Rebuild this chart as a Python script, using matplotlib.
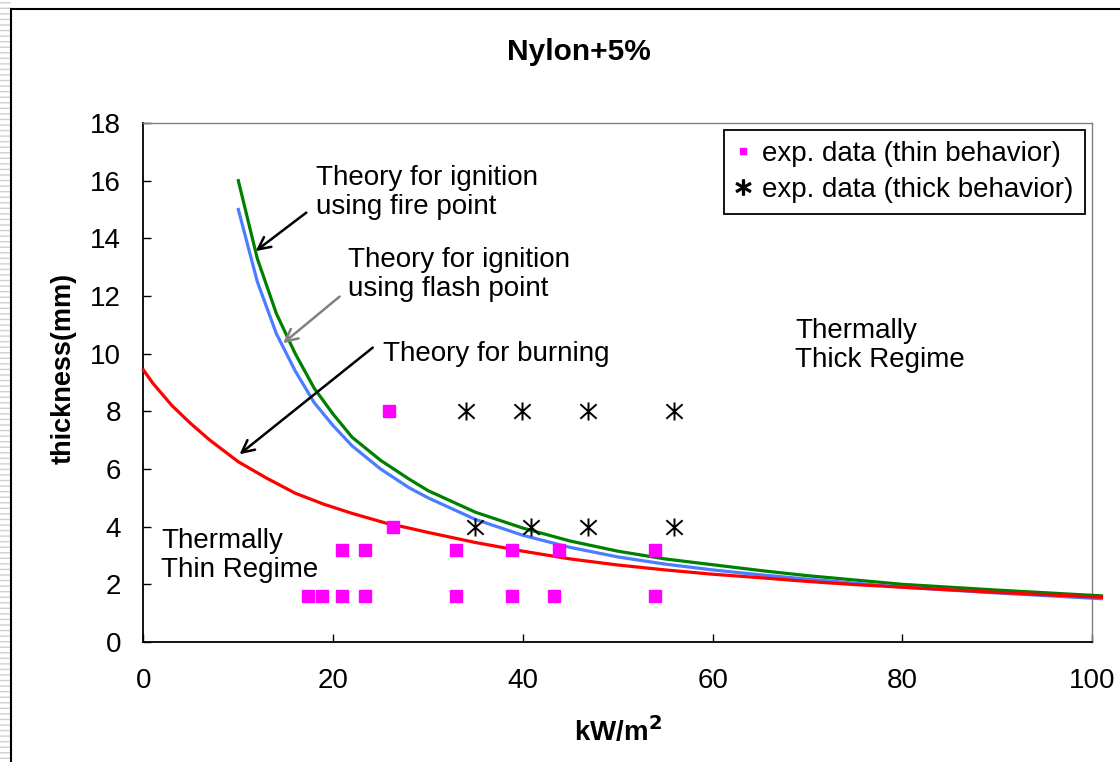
import matplotlib
matplotlib.use("Agg")
import matplotlib.pyplot as plt
from matplotlib.lines import Line2D
from matplotlib.patches import Rectangle
from matplotlib.path import Path
import numpy as np

plt.rcParams['font.family'] = ['Liberation Sans', 'DejaVu Sans']

# theory curves
x_fire = [10, 12, 14, 16, 18, 20, 22, 25, 28, 30, 35, 40, 45, 50, 55, 60, 65, 70, 80, 90, 101]
y_fire = [16.0, 13.3, 11.4, 10.0, 8.8, 7.9, 7.1, 6.3, 5.65, 5.25, 4.5, 3.95, 3.5, 3.15, 2.88, 2.68, 2.48, 2.3, 2.0, 1.8, 1.6]

x_flash = [10, 12, 14, 16, 18, 20, 22, 25, 28, 30, 35, 40, 45, 50, 55, 60, 65, 70, 80, 90, 101]
y_flash = [15.0, 12.5, 10.7, 9.4, 8.3, 7.5, 6.8, 6.0, 5.35, 5.0, 4.25, 3.7, 3.28, 2.95, 2.7, 2.5, 2.33, 2.18, 1.9, 1.7, 1.5]

x_burn = [0, 1, 3, 5, 7, 9, 10, 13, 16, 19, 22, 25.6, 28, 30, 35, 40, 45, 50, 55, 60, 65, 70, 75, 80, 90, 101]
y_burn = [9.43, 8.97, 8.2, 7.57, 7.0, 6.5, 6.25, 5.68, 5.16, 4.78, 4.46, 4.12, 3.95, 3.8, 3.45, 3.15, 2.88, 2.67, 2.5, 2.35, 2.23, 2.1, 1.99, 1.9, 1.72, 1.55]

# experiments
thin_x = [25.9, 26.3, 20.9, 23.4, 32.9, 38.8, 43.8, 53.9, 17.3, 18.8, 20.9, 23.4, 32.9, 38.8, 43.3, 53.9]
thin_y = [8.0, 4.0, 3.2, 3.2, 3.2, 3.2, 3.2, 3.2, 1.6, 1.6, 1.6, 1.6, 1.6, 1.6, 1.6, 1.6]
thick_x = [34.0, 39.9, 46.9, 55.9, 34.9, 40.9, 46.9, 55.9]
thick_y = [8, 8, 8, 8, 4, 4, 4, 4]

# excel style asterisk: vertical bar plus an X
star = Path([(0, -1), (0, 1), (-0.9, -0.8), (0.9, 0.8), (-0.9, 0.8), (0.9, -0.8)],
            [Path.MOVETO, Path.LINETO, Path.MOVETO, Path.LINETO, Path.MOVETO, Path.LINETO])

fig = plt.figure(figsize=(11.2, 7.62), dpi=100)
ax = fig.add_axes([0.1281, 0.1575, 0.8469, 0.6811])

# outer frame like the spreadsheet chart area
fig.patches.append(Rectangle((0, 0), 0.0098, 1, transform=fig.transFigure,
                             facecolor='white', edgecolor='#d0d0d0', hatch='---',
                             lw=0, zorder=0))
fig.add_artist(Line2D([0.0098, 0.0098], [0, 0.988], color='black', lw=1.5,
                      transform=fig.transFigure))
fig.add_artist(Line2D([0.0098, 1], [0.988, 0.988], color='black', lw=1.5,
                      transform=fig.transFigure))

ax.plot(x_fire, y_fire, color='#008000', lw=2.3, clip_on=False, zorder=3)
ax.plot(x_flash, y_flash, color='#4a7dff', lw=2.3, clip_on=False, zorder=3)
ax.plot(x_burn, y_burn, color='#ff0000', lw=2.3, clip_on=False, zorder=4)

ax.plot(thin_x, thin_y, 's', color='#ff00ff', ms=8.5, ls='none', zorder=5)
ax.plot(thick_x, thick_y, marker=star, color='black', ms=13, mew=1.4,
        ls='none', zorder=5)

ax.set_xlim(0, 100)
ax.set_ylim(0, 18)
ax.set_xticks(range(0, 101, 20))
ax.set_yticks(range(0, 19, 2))
ax.tick_params(direction='in', length=6, width=1, labelsize=20, top=False, right=False)
ax.tick_params(axis='x', pad=19)
ax.tick_params(axis='y', pad=16)
for s in ['top', 'right']:
    ax.spines[s].set_color('#808080')
    ax.spines[s].set_linewidth(1)
for s in ['left', 'bottom']:
    ax.spines[s].set_linewidth(1.3)

ax.set_ylabel('thickness(mm)', fontsize=19.5, fontweight='bold')
ax.yaxis.set_label_coords(-0.070, 0.528)
ax.set_xlabel('kW/m$^\\mathbf{2}$', fontsize=20, fontweight='bold', labelpad=16)
fig.text(579 / 1120, 1 - 52 / 762, 'Nylon+5%', fontsize=21.5, fontweight='bold',
         ha='center', va='center')

# annotations
fs = 20
ax.text(18.2, 15.6, 'Theory for ignition\nusing fire point', fontsize=fs,
        ha='left', va='center', linespacing=1.15)
ax.annotate('', xy=(11.6, 13.5), xytext=(17.4, 14.95),
            arrowprops=dict(arrowstyle='->', color='black', lw=1.8, mutation_scale=22))
ax.text(21.6, 12.76, 'Theory for ignition\nusing flash point', fontsize=fs,
        ha='left', va='center', linespacing=1.15)
ax.annotate('', xy=(14.5, 10.3), xytext=(20.9, 12.04),
            arrowprops=dict(arrowstyle='->', color='#808080', lw=1.8, mutation_scale=22))
ax.text(25.2, 10.0, 'Theory for burning', fontsize=fs, ha='left', va='center')
ax.annotate('', xy=(9.9, 6.45), xytext=(24.4, 10.27),
            arrowprops=dict(arrowstyle='->', color='black', lw=1.8, mutation_scale=22))
ax.text(68.7, 10.27, 'Thermally\nThick Regime', fontsize=fs, ha='left', va='center',
        linespacing=1.15)
ax.text(1.85, 3.0, 'Thermally\nThin Regime', fontsize=fs, ha='left', va='center',
        linespacing=1.15)

handles = [Line2D([], [], marker='s', color='#ff00ff', ms=5, ls='none'),
           Line2D([], [], marker='$*$', color='black', ms=11, ls='none')]
leg = ax.legend(handles, ['exp. data (thin behavior)', 'exp. data (thick behavior)'],
                loc='upper right', bbox_to_anchor=(0.9926, 0.9865), borderaxespad=0,
                fontsize=20, fancybox=False, edgecolor='black', framealpha=1,
                handlelength=0.6, handletextpad=0.4, borderpad=0.4, labelspacing=0.35)
leg.get_frame().set_linewidth(1.3)

fig.savefig('out.png', dpi=100)
